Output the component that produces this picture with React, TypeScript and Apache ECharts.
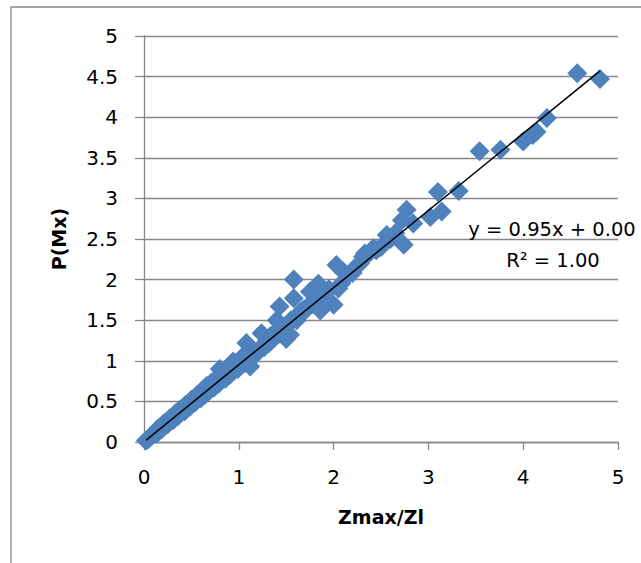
import React, { useEffect, useRef } from "react";
import * as echarts from "echarts";

const xTitle = "Zmax/Zl";
const yTitle = "P(Mx)";
const equationLine = "y = 0.95x + 0.00";
const r2Line = "R² = 1.00";

// observed points [Zmax/Zl, P(Mx)]
const pointsX = [
  0.02, 0.04, 0.06, 0.08, 0.1, 0.12, 0.14, 0.16, 0.18, 0.2, 0.22, 0.24, 0.26, 0.28, 0.3, 0.32,
  0.35, 0.37, 0.4, 0.42, 0.45, 0.47, 0.5, 0.52, 0.55, 0.57, 0.6, 0.62, 0.65, 0.67, 0.7, 0.72,
  0.75, 0.77, 0.8, 0.8, 0.82, 0.85, 0.87, 0.9, 0.92, 0.94, 0.95, 0.97, 1.0, 1.02, 1.05, 1.08,
  1.12, 1.1, 1.15, 1.2, 1.24, 1.25, 1.28, 1.3, 1.33, 1.35, 1.38, 1.4, 1.42, 1.43, 1.45, 1.48,
  1.5, 1.52, 1.54, 1.55, 1.58, 1.58, 1.6, 1.61, 1.63, 1.65, 1.68, 1.7, 1.72, 1.75, 1.78, 1.8,
  1.84, 1.86, 1.88, 1.9, 1.95, 2.0, 2.03, 2.05, 2.08, 2.1, 2.15, 2.2, 2.24, 2.28, 2.31, 2.33,
  2.38, 2.42, 2.45, 2.5, 2.56, 2.6, 2.65, 2.72, 2.74, 2.77, 2.84, 3.02, 3.1, 3.14, 3.32, 3.54,
  3.76, 4.0, 4.1, 4.14, 4.25, 4.57, 4.81,
  0.15, 0.21, 0.27, 0.33, 0.38, 0.44, 0.5, 0.56, 0.61, 0.66, 0.71, 0.76, 0.84, 0.89, 0.96, 1.03,
  0.13, 0.19, 0.25, 0.31, 0.36, 0.43, 0.49, 0.54, 0.6, 0.64, 0.69, 0.74, 0.79, 0.86, 0.91, 0.99,
  1.06, 1.14, 1.18, 1.22, 1.27, 1.32, 1.37, 1.46,
];
const pointsY = [
  0.02, 0.03, 0.06, 0.07, 0.1, 0.11, 0.14, 0.15, 0.17, 0.2, 0.21, 0.24, 0.25, 0.28, 0.28, 0.31,
  0.34, 0.35, 0.38, 0.41, 0.42, 0.46, 0.47, 0.5, 0.52, 0.55, 0.56, 0.6, 0.62, 0.65, 0.66, 0.7,
  0.71, 0.75, 0.76, 0.9, 0.8, 0.8, 0.84, 0.85, 0.9, 0.99, 0.88, 0.94, 0.95, 0.98, 0.98, 1.22,
  0.93, 1.05, 1.1, 1.12, 1.34, 1.17, 1.22, 1.25, 1.3, 1.28, 1.35, 1.5, 1.33, 1.67, 1.4, 1.38,
  1.27, 1.45, 1.32, 1.5, 2.0, 1.77, 1.52, 1.5, 1.55, 1.6, 1.63, 1.62, 1.66, 1.85, 1.7, 1.72,
  1.95, 1.62, 1.8, 1.82, 1.88, 1.69, 2.18, 1.89, 1.95, 2.1, 2.05, 2.08, 2.16, 2.2, 2.28, 2.32,
  2.33, 2.39, 2.36, 2.4, 2.55, 2.5, 2.57, 2.73, 2.43, 2.86, 2.69, 2.77, 3.08, 2.84, 3.09, 3.58,
  3.6, 3.7, 3.78, 3.82, 3.99, 4.54, 4.47,
  0.17, 0.23, 0.29, 0.35, 0.4, 0.46, 0.52, 0.58, 0.63, 0.69, 0.73, 0.78, 0.86, 0.91, 0.97, 1.04,
  0.1, 0.16, 0.22, 0.27, 0.32, 0.38, 0.44, 0.49, 0.54, 0.58, 0.63, 0.67, 0.72, 0.78, 0.83, 0.9,
  0.97, 1.06, 1.08, 1.14, 1.17, 1.22, 1.28, 1.36,
];

// linear trendline endpoints (y = 0.95x)
const trendX = [0.02, 4.81];
const trendY = [0.02, 4.57];

const FONT = "DejaVu Sans";

export default function App() {
  const ref = useRef<HTMLDivElement>(null);

  useEffect(() => {
    document.body.style.margin = "0";
    const chart = echarts.init(ref.current!, undefined, { renderer: "svg" });
    const gray = "#878787";
    chart.setOption({
      animation: false,
      backgroundColor: "#ffffff",
      textStyle: { fontFamily: FONT },
      grid: { left: 144, top: 36, right: 23, bottom: 121, containLabel: false },
      xAxis: {
        type: "value",
        min: 0,
        max: 5,
        interval: 1,
        name: xTitle,
        nameLocation: "middle",
        nameGap: 65,
        nameTextStyle: { fontFamily: FONT, fontSize: 19, fontWeight: "bold", color: "#000" },
        axisLine: { show: true, lineStyle: { color: gray, width: 1.3 } },
        axisTick: { show: true, length: 8, lineStyle: { color: gray, width: 1.3 } },
        axisLabel: { margin: 25, fontSize: 20, color: "#000", fontFamily: FONT },
        splitLine: { show: false },
      },
      yAxis: {
        type: "value",
        min: 0,
        max: 5,
        interval: 0.5,
        name: yTitle,
        nameLocation: "middle",
        nameGap: 76,
        nameRotate: 90,
        nameTextStyle: { fontFamily: FONT, fontSize: 19, fontWeight: "bold", color: "#000" },
        axisLine: { show: true, lineStyle: { color: gray, width: 1.3 } },
        axisTick: { show: true, length: 9, lineStyle: { color: gray, width: 1.3 } },
        axisLabel: { margin: 26, fontSize: 20, color: "#000", fontFamily: FONT },
        splitLine: { show: true, lineStyle: { color: gray, width: 1.3 } },
      },
      series: [
        {
          type: "scatter",
          symbol: "diamond",
          symbolSize: 20,
          itemStyle: { color: "#4F81BD", opacity: 1 },
          data: pointsX.map((x, i) => [x, pointsY[i]]),
          z: 2,
        },
        {
          type: "line",
          showSymbol: false,
          symbol: "none",
          lineStyle: { color: "#000", width: 1.5 },
          data: trendX.map((x, i) => [x, trendY[i]]),
          z: 3,
        },
      ],
      graphic: [
        {
          type: "rect",
          shape: { x: 11, y: 7, width: 800, height: 800 },
          style: { fill: "none", stroke: gray, lineWidth: 1.3 },
          silent: true,
        },
        {
          type: "text",
          x: 552,
          y: 229,
          style: {
            text: equationLine,
            fontFamily: FONT,
            fontSize: 19.5,
            fill: "#000",
            align: "center",
            verticalAlign: "middle",
          },
          z: 10,
        },
        {
          type: "text",
          x: 553,
          y: 260,
          style: {
            text: r2Line,
            fontFamily: FONT,
            fontSize: 19.5,
            fill: "#000",
            align: "center",
            verticalAlign: "middle",
          },
          z: 10,
        },
      ],
    });
    return () => chart.dispose();
  }, []);

  return <div ref={ref} style={{ width: 641, height: 563 }} />;
}
